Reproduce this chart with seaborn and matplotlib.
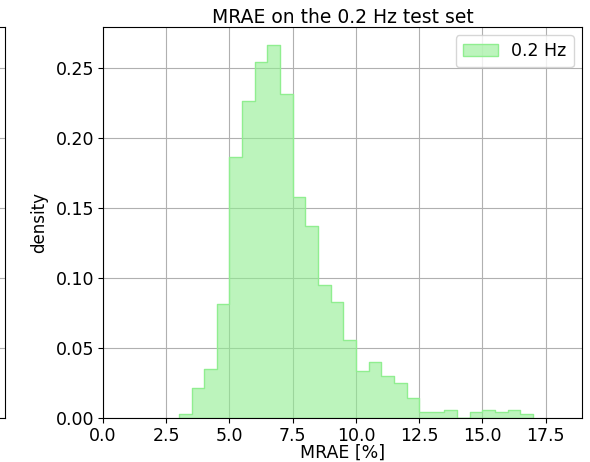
import numpy as np
import pandas as pd
import matplotlib
matplotlib.use("Agg")
import matplotlib.pyplot as plt
import seaborn as sns

# Data
bin_edges = [3.0, 3.5, 4.0, 4.5, 5.0, 5.5, 6.0, 6.5, 7.0, 7.5, 8.0, 8.5, 9.0, 9.5,
             10.0, 10.5, 11.0, 11.5, 12.0, 12.5, 13.0, 13.5, 14.0, 14.5, 15.0,
             15.5, 16.0, 16.5, 17.0]
densities = [0.0024, 0.021, 0.035, 0.081, 0.186, 0.226, 0.254, 0.266, 0.231,
             0.158, 0.137, 0.095, 0.083, 0.0555, 0.033, 0.040, 0.030, 0.0245,
             0.0143, 0.0043, 0.0043, 0.0055, 0.0, 0.0043, 0.0055, 0.0043,
             0.0055, 0.0024]
series_label = "0.2 Hz"
title = "MRAE on the 0.2 Hz test set"
xlabel = "MRAE [%]"
ylabel = "density"
xticks = [0.0, 2.5, 5.0, 7.5, 10.0, 12.5, 15.0, 17.5]
yticks = [0.00, 0.05, 0.10, 0.15, 0.20, 0.25]

centers = [(a + b) / 2 for a, b in zip(bin_edges[:-1], bin_edges[1:])]
df = pd.DataFrame({"mrae": centers, "density": densities})

plt.rcParams["font.family"] = ["DejaVu Sans"]
fig = plt.figure(figsize=(5.9, 4.62), dpi=100)

# Partially visible neighbouring axes on the left
ax0 = fig.add_axes([-0.5, 0.0959, 0.5085, 0.8463])
ax0.set_ylim(0, 0.2793)
ax0.set_yticks(yticks)
ax0.set_xticks([])
ax0.tick_params(left=False, labelleft=False)
ax0.grid(True, color="#b0b0b0", linewidth=0.8)

ax = fig.add_axes([0.1746, 0.0959, 0.8124, 0.8463])
sns.histplot(data=df, x="mrae", weights="density", bins=bin_edges,
             element="step", fill=True, color="#90ee90", alpha=0.6,
             edgecolor="#90ee90", linewidth=1.0, label=series_label, ax=ax)
ax.set_xlim(0, 18.95)
ax.set_ylim(0, 0.2793)
ax.set_xticks(xticks)
ax.set_xticklabels([f"{t:.1f}" for t in xticks])
ax.set_yticks(yticks)
ax.set_yticklabels([f"{t:.2f}" for t in yticks])
ax.tick_params(labelsize=12.5, pad=3)
ax.set_xlabel(xlabel, fontsize=12.5, labelpad=-1)
ax.set_ylabel(ylabel, fontsize=12, labelpad=5)
ax.set_title(title, fontsize=13.5, pad=3)
ax.grid(True, color="#b0b0b0", linewidth=0.8)
ax.set_axisbelow(True)
ax.legend(loc="upper right", fontsize=12.5)

fig.savefig("out.png", dpi=100)
